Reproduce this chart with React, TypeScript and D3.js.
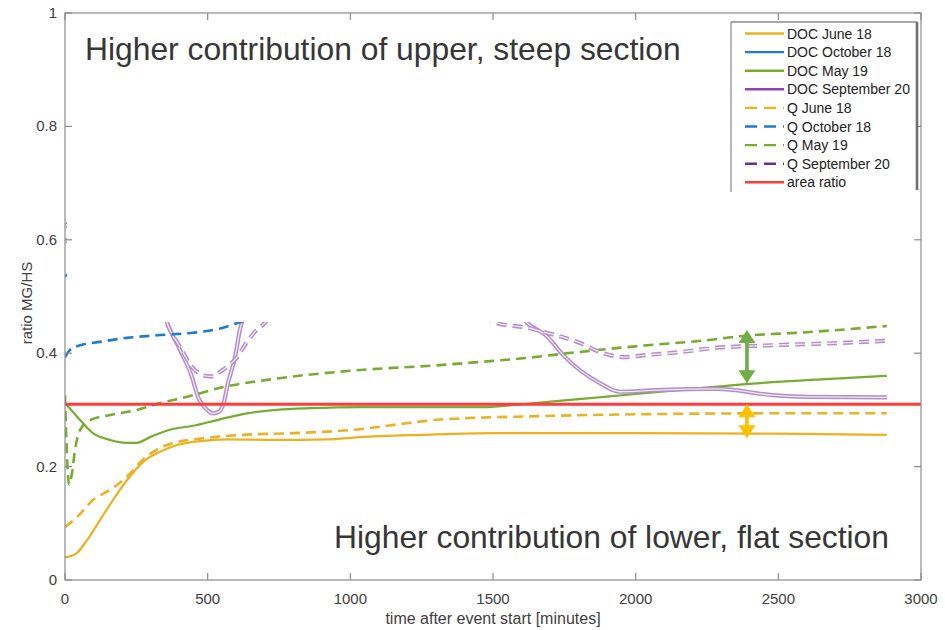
import React from "react";
import * as d3 from "d3";

// ---- data: [minutes after event start, ratio MG/HS] ----
const docJune18: [number, number][] = [
  [0, 0.04], [40, 0.047], [77, 0.07], [123, 0.106], [168, 0.141], [217, 0.176], [273, 0.208],
  [333, 0.226], [393, 0.238], [473, 0.245], [568, 0.248], [743, 0.247], [918, 0.248], [1034, 0.252],
  [1250, 0.256], [1500, 0.259], [2000, 0.259], [2500, 0.258], [2880, 0.256],
];
const docOctober18: [number, number][] = [
  [0, 0.535], [30, 0.55], [100, 0.62], [400, 0.64], [800, 0.6], [1200, 0.58], [1600, 0.57],
];
const docMay19: [number, number][] = [
  [0, 0.312], [25, 0.298], [53, 0.282], [98, 0.259], [158, 0.247], [217, 0.242], [252, 0.242],
  [298, 0.252], [368, 0.265], [449, 0.272], [533, 0.282], [638, 0.294], [743, 0.3], [859, 0.303],
  [1034, 0.305], [1465, 0.305], [1600, 0.31], [1800, 0.319], [2000, 0.328], [2200, 0.337],
  [2400, 0.346], [2650, 0.354], [2880, 0.36],
];
const docSeptember20: [number, number][] = [
  [0, 0.623], [30, 0.64], [120, 0.72], [250, 0.6], [330, 0.5], [357, 0.455], [403, 0.406],
  [445, 0.358], [466, 0.323], [498, 0.3], [520, 0.294], [540, 0.297], [555, 0.31], [571, 0.347],
  [596, 0.393], [613, 0.441], [620, 0.455], [650, 0.52], [750, 0.6], [1000, 0.65], [1300, 0.6],
  [1500, 0.52], [1580, 0.475], [1620, 0.453], [1689, 0.43], [1745, 0.397], [1875, 0.347],
  [1945, 0.332], [2075, 0.335], [2285, 0.337], [2481, 0.326], [2600, 0.323], [2880, 0.322],
];
const qJune18: [number, number][] = [
  [0, 0.093], [42, 0.111], [98, 0.141], [158, 0.159], [217, 0.182], [273, 0.212], [333, 0.233],
  [393, 0.243], [484, 0.25], [624, 0.256], [799, 0.259], [1034, 0.266], [1174, 0.275], [1314, 0.283],
  [1665, 0.289], [2131, 0.293], [2500, 0.294], [2880, 0.294],
];
const qOctober18: [number, number][] = [
  [0, 0.393], [18, 0.406], [53, 0.414], [123, 0.42], [217, 0.427], [333, 0.432], [449, 0.436],
  [540, 0.443], [624, 0.456], [720, 0.462], [900, 0.475], [1200, 0.49], [1500, 0.5],
];
const qMay19: [number, number][] = [
  [0, 0.326], [7, 0.22], [14, 0.168], [25, 0.19], [35, 0.229], [53, 0.265], [88, 0.282], [158, 0.291],
  [252, 0.3], [333, 0.312], [428, 0.323], [543, 0.339], [708, 0.353], [1000, 0.369], [1314, 0.379],
  [1465, 0.385], [1605, 0.391], [1745, 0.399], [1875, 0.406], [2040, 0.414], [2250, 0.423],
  [2366, 0.43], [2600, 0.437], [2880, 0.448],
];
const qSeptember20: [number, number][] = [
  [0, 0.596], [30, 0.61], [150, 0.66], [300, 0.53], [368, 0.441], [403, 0.411],
  [445, 0.376], [491, 0.36], [520, 0.359], [543, 0.367], [603, 0.393], [638, 0.42], [683, 0.446],
  [694, 0.45], [760, 0.5], [1000, 0.55], [1300, 0.52], [1450, 0.47], [1514, 0.453], [1630, 0.444],
  [1689, 0.436], [1805, 0.418], [1875, 0.402], [1956, 0.393], [2040, 0.397], [2156, 0.402],
  [2271, 0.409], [2481, 0.414], [2716, 0.418], [2880, 0.422],
];
const areaRatio: [number, number][] = [[0, 0.31], [3000, 0.31]];

const xTicks = [0, 500, 1000, 1500, 2000, 2500, 3000];
const yTicks = [0, 0.2, 0.4, 0.6, 0.8, 1];

// double arrows marking the DOC/Q offsets at one time step
const arrows = [
  { t: 2390, top: 0.441, bottom: 0.347, color: "#70AD47" },
  { t: 2390, top: 0.31, bottom: 0.25, color: "#FFC000" },
];

const upperLabel = "Higher contribution of upper, steep section";
const lowerLabel = "Higher contribution of lower, flat section";

type Style = { color: string; dashed: boolean; hollow?: boolean };
const series: { name: string; data: [number, number][]; style: Style; legendColor: string }[] = [
  { name: "DOC June 18", data: docJune18, style: { color: "#EDB120", dashed: false }, legendColor: "#EDB120" },
  { name: "DOC October 18", data: docOctober18, style: { color: "#1F7BCB", dashed: false }, legendColor: "#1F7BCB" },
  { name: "DOC May 19", data: docMay19, style: { color: "#77AC30", dashed: false }, legendColor: "#77AC30" },
  { name: "DOC September 20", data: docSeptember20, style: { color: "#B48CC7", dashed: false, hollow: true }, legendColor: "#8E44AD" },
  { name: "Q June 18", data: qJune18, style: { color: "#EDB120", dashed: true }, legendColor: "#EDB120" },
  { name: "Q October 18", data: qOctober18, style: { color: "#1F7BCB", dashed: true }, legendColor: "#1F7BCB" },
  { name: "Q May 19", data: qMay19, style: { color: "#77AC30", dashed: true }, legendColor: "#77AC30" },
  { name: "Q September 20", data: qSeptember20, style: { color: "#B48CC7", dashed: true, hollow: true }, legendColor: "#6A2C91" },
];

const W = 945;
const H = 630;
const plot = { left: 65, right: 921, top: 13, bottom: 580 };
const FONT = "'Liberation Sans', Arial, Helvetica, sans-serif";

export default function App() {
  const x = d3.scaleLinear().domain([0, 3000]).range([plot.left, plot.right]);
  const y = d3.scaleLinear().domain([0, 1]).range([plot.bottom, plot.top]);
  const line = d3
    .line<[number, number]>()
    .x((d) => x(d[0]))
    .y((d) => y(d[1]))
    .curve(d3.curveMonotoneX);

  const dash = "10 6";
  const axisColor = "#8C8C8C";
  const tickLen = 7;
  const coverBottom = y(0.455);

  const legendX = 731;
  const legendTop = 22;
  const rowH = 18.6;
  const legendRows = [
    ...series.map((s) => ({ name: s.name, color: s.legendColor, dashed: s.style.dashed })),
    { name: "area ratio", color: "#FF3B3B", dashed: false },
  ];

  return (
    <svg width={W} height={H} style={{ position: "absolute", left: 0, top: 0, background: "#fff" }} fontFamily={FONT}>
      <defs>
        <clipPath id="plot-clip">
          <rect x={plot.left} y={plot.top} width={plot.right - plot.left} height={plot.bottom - plot.top} />
        </clipPath>
      </defs>

      <g clipPath="url(#plot-clip)">
        {series.map((s) =>
          s.style.hollow ? (
            <g key={s.name}>
              <path d={line(s.data) ?? ""} fill="none" stroke={s.style.color} strokeWidth={4.2}
                strokeDasharray={s.style.dashed ? dash : undefined} />
              <path d={line(s.data) ?? ""} fill="none" stroke="#F1E9F5" strokeWidth={1.3}
                strokeDasharray={s.style.dashed ? dash : undefined} />
            </g>
          ) : (
            <path key={s.name} d={line(s.data) ?? ""} fill="none" stroke={s.style.color}
              strokeWidth={s.style.dashed ? 2.6 : 2.2} strokeDasharray={s.style.dashed ? dash : undefined} />
          )
        )}
        <path d={d3.line<[number, number]>().x((d) => x(d[0])).y((d) => y(d[1]))(areaRatio) ?? ""}
          fill="none" stroke="#FF3B3B" strokeWidth={2.8} />
      </g>

      {arrows.map((a, i) => {
        const cx = x(a.t);
        const y1 = y(a.top);
        const y2 = y(a.bottom);
        const head = 13;
        const hw = 8.5;
        return (
          <g key={i} fill={a.color}>
            <rect x={cx - 1.8} y={y1 + head - 1} width={3.6} height={y2 - y1 - 2 * head + 2} />
            <polygon points={`${cx},${y1} ${cx - hw},${y1 + head} ${cx + hw},${y1 + head}`} />
            <polygon points={`${cx},${y2} ${cx - hw},${y2 - head} ${cx + hw},${y2 - head}`} />
          </g>
        );
      })}

      {/* white panel over the upper part of the axes */}
      <rect x={plot.left + 2} y={plot.top + 1} width={plot.right - plot.left - 4} height={coverBottom - plot.top - 1} fill="#fff" />

      <text x={85} y={60} fontSize={31.8} fill="#363636">{upperLabel}</text>
      <text x={889} y={548} fontSize={31.8} fill="#363636" textAnchor="end">{lowerLabel}</text>

      {/* axes box and ticks */}
      <rect x={plot.left} y={plot.top} width={plot.right - plot.left} height={plot.bottom - plot.top}
        fill="none" stroke={axisColor} strokeWidth={1.2} />
      {xTicks.map((t) => (
        <g key={`x${t}`}>
          <line x1={x(t)} x2={x(t)} y1={plot.bottom} y2={plot.bottom - tickLen} stroke={axisColor} strokeWidth={1.2} />
          <line x1={x(t)} x2={x(t)} y1={plot.top} y2={plot.top + tickLen} stroke={axisColor} strokeWidth={1.2} />
          <text x={x(t)} y={604} fontSize={15} fill="#404040" textAnchor="middle">{t}</text>
        </g>
      ))}
      {yTicks.map((t) => (
        <g key={`y${t}`}>
          <line x1={plot.left} x2={plot.left + tickLen} y1={y(t)} y2={y(t)} stroke={axisColor} strokeWidth={1.2} />
          <line x1={plot.right} x2={plot.right - tickLen} y1={y(t)} y2={y(t)} stroke={axisColor} strokeWidth={1.2} />
          <text x={57} y={y(t) + 5} fontSize={15} fill="#404040" textAnchor="end">{t}</text>
        </g>
      ))}
      <text x={493} y={624} fontSize={16} fill="#404040" textAnchor="middle">time after event start [minutes]</text>
      <text transform={`translate(32, ${303}) rotate(-90)`} fontSize={15} fill="#404040" textAnchor="middle">ratio MG/HS</text>

      {/* legend */}
      <g>
        <rect x={legendX} y={legendTop} width={917 - legendX} height={170} fill="#fff" />
        <line x1={legendX} x2={legendX} y1={legendTop} y2={192} stroke="#A0A0A0" strokeWidth={1.5} />
        <line x1={legendX} x2={917} y1={legendTop} y2={legendTop} stroke="#8A8A8A" strokeWidth={1.5} />
        <line x1={917} x2={917} y1={legendTop} y2={190} stroke="#6E6E6E" strokeWidth={2.6} />
        {legendRows.map((r, i) => {
          const ry = 33.5 + i * rowH;
          return (
            <g key={r.name}>
              <line x1={745} x2={784} y1={ry} y2={ry} stroke={r.color} strokeWidth={2.4}
                strokeDasharray={r.dashed ? "12 7" : undefined} />
              <text x={787} y={ry + 5} fontSize={14} fill="#222">{r.name}</text>
            </g>
          );
        })}
      </g>
    </svg>
  );
}
